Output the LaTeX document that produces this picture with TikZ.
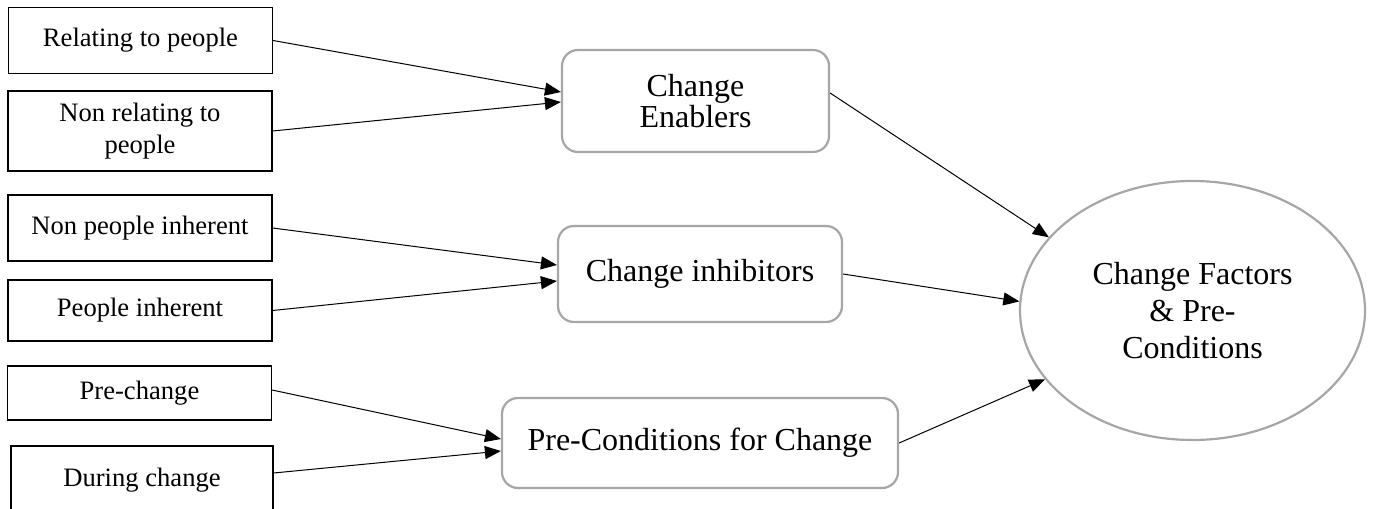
\documentclass[tikz,border=0pt]{standalone}
\usepackage{fontspec}
\setmainfont{Liberation Serif}
\usetikzlibrary{arrows.meta,positioning,shapes.geometric}
\definecolor{CHGGrey}{HTML}{A6A6A6}
\definecolor{CHGInk}{HTML}{000000}
\tikzset{
  chgsub/.style={
    draw=CHGInk,
    line width=0.6pt,
    fill=white,
    align=center,
    minimum width=132pt,
    inner sep=2pt,
    font=\fontsize{13.3}{16}\selectfont
  },
  chgmid/.style={
    draw=CHGGrey,
    line width=1.1pt,
    fill=white,
    rounded corners=8pt,
    align=center,
    font=\fontsize{16}{15.5}\selectfont
  },
  chggoal/.style={
    draw=CHGGrey,
    line width=1.1pt,
    ellipse,
    inner sep=0pt,
    align=center,
    minimum width=172.5pt,
    minimum height=129.5pt,
    font=\fontsize{16}{18.3}\selectfont
  },
  chgflow/.style={-{Triangle[length=8pt,width=6.5pt]},draw=CHGInk,line width=0.5pt}
}

\begin{document}
\begin{tikzpicture}[x=0.5pt,y=-0.5pt]
  \useasboundingbox (0,0) rectangle (1374,508);
  % left column
  \node[chgsub,minimum height=33pt] (relate) at (140.5,40.5) {Relating to people};
  \node[chgsub,minimum height=40pt] (nonrelate) at (140,131) {Non relating to\\people};
  \node[chgsub,minimum height=33pt] (noninh) at (140,228) {Non people inherent};
  \node[chgsub,minimum height=30.5pt] (inh) at (140,310.5) {People inherent};
  \node[chgsub,minimum height=27pt] (prechg) at (139.5,393) {Pre-change};
  \node[chgsub,minimum width=131pt,minimum height=34.5pt] (during) at (142,480.5) {During change};
  % middle column
  \node[chgmid,minimum width=133.5pt,minimum height=51pt] (enabler) at (695.5,101) {Change\\Enablers};
  \node[chgmid,minimum width=142pt,minimum height=48pt] (inhibit) at (700,274) {Change inhibitors};
  \node[chgmid,minimum width=198pt,minimum height=45pt] (precond) at (700,443) {Pre-Conditions for Change};
  % goal
  \node[chggoal] (factors) at (1192.5,310.5) {Change Factors\\\& Pre-\\Conditions};
  \draw[chgflow] (relate.east) -- ([yshift=4.5pt]enabler.west);
  \draw[chgflow] (nonrelate.east) -- ([yshift=-0.5pt]enabler.west);
  \draw[chgflow] (noninh.east) -- ([yshift=4.5pt]inhibit.west);
  \draw[chgflow] (inh.east) -- ([yshift=-3.5pt]inhibit.west);
  \draw[chgflow] ([yshift=1.5pt]prechg.east) -- ([yshift=2pt]precond.west);
  \draw[chgflow] ([yshift=3.75pt]during.east) -- ([yshift=-4pt]precond.west);
  \draw[chgflow] ([yshift=4pt]enabler.east) -- (factors.153);
  \draw[chgflow] (inhibit.east) -- (factors.177);
  \draw[chgflow] (precond.east) -- (factors.205);
\end{tikzpicture}
\end{document}
